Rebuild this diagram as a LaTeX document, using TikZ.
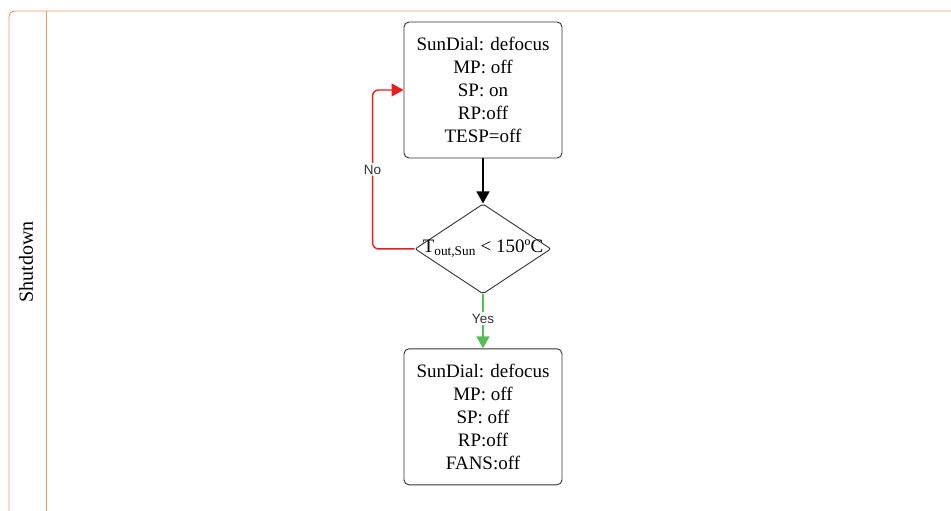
\documentclass[tikz,border=0pt]{standalone}
\usepackage{fontspec}
\setmainfont{Liberation Serif}
\setsansfont{Liberation Sans}
\usepackage{xcolor}
\usetikzlibrary{arrows.meta, positioning, shapes.geometric}

\definecolor{poolorange}{RGB}{245,150,95}
\definecolor{noRed}{RGB}{230,30,30}
\definecolor{yesGreen}{RGB}{85,190,85}
\definecolor{boxGray}{RGB}{50,50,50}

\begin{document}
\begin{tikzpicture}[
        x=1pt, y=1pt,
        node distance=45pt,
        state/.style={rectangle, rounded corners=5pt, draw=boxGray, line width=0.9pt,
            minimum width=158pt, minimum height=136pt, align=center,
            font=\fontsize{19}{23}\selectfont},
        decision/.style={diamond, rounded corners=2pt, draw=boxGray, line width=0.9pt,
            minimum width=136pt, minimum height=90pt, inner sep=0pt,
            font=\fontsize{19}{22}\selectfont},
        arrow/.style={-{Triangle[length=12pt,width=13pt]}, line width=1.4pt},
        lbl/.style={font=\sffamily\fontsize{13.5}{15}\selectfont, text=boxGray,
            fill=white, inner sep=1.5pt}
    ]
        \useasboundingbox (0,0) rectangle (951,-511);

        % Pool and lane
        \draw[poolorange, line width=0.9pt, rounded corners=6pt] (9,-512) -- (9,-11) -- (952,-11);
        \draw[poolorange, line width=0.9pt] (46,-11) -- (46,-512);
        \node[rotate=90, font=\fontsize{20}{22}\selectfont] (lane) at (26,-262) {Shutdown};

        % Nodes
        \node[state] (run) at (483,-90) {SunDial: defocus\\MP: off\\SP: on\\RP:off\\TESP=off};
        \node[decision, below=of run] (chk) {\makebox[0pt]{T\textsubscript{out,Sun} < 150ºC}};
        \node[state, below=54pt of chk] (stop) {SunDial: defocus\\MP: off\\SP: off\\RP:off\\FANS:off};

        % Arrows
        \draw[arrow, black] (run) -- (chk);
        \draw[arrow, yesGreen] (chk) -- node[lbl, pos=0.45] {Yes} (stop);
        \draw[arrow, noRed, rounded corners=6pt] (chk.west) -- ++(-42,0)
            |- node[lbl, pos=0.25] {No} (run.west);

    \end{tikzpicture}
\end{document}
